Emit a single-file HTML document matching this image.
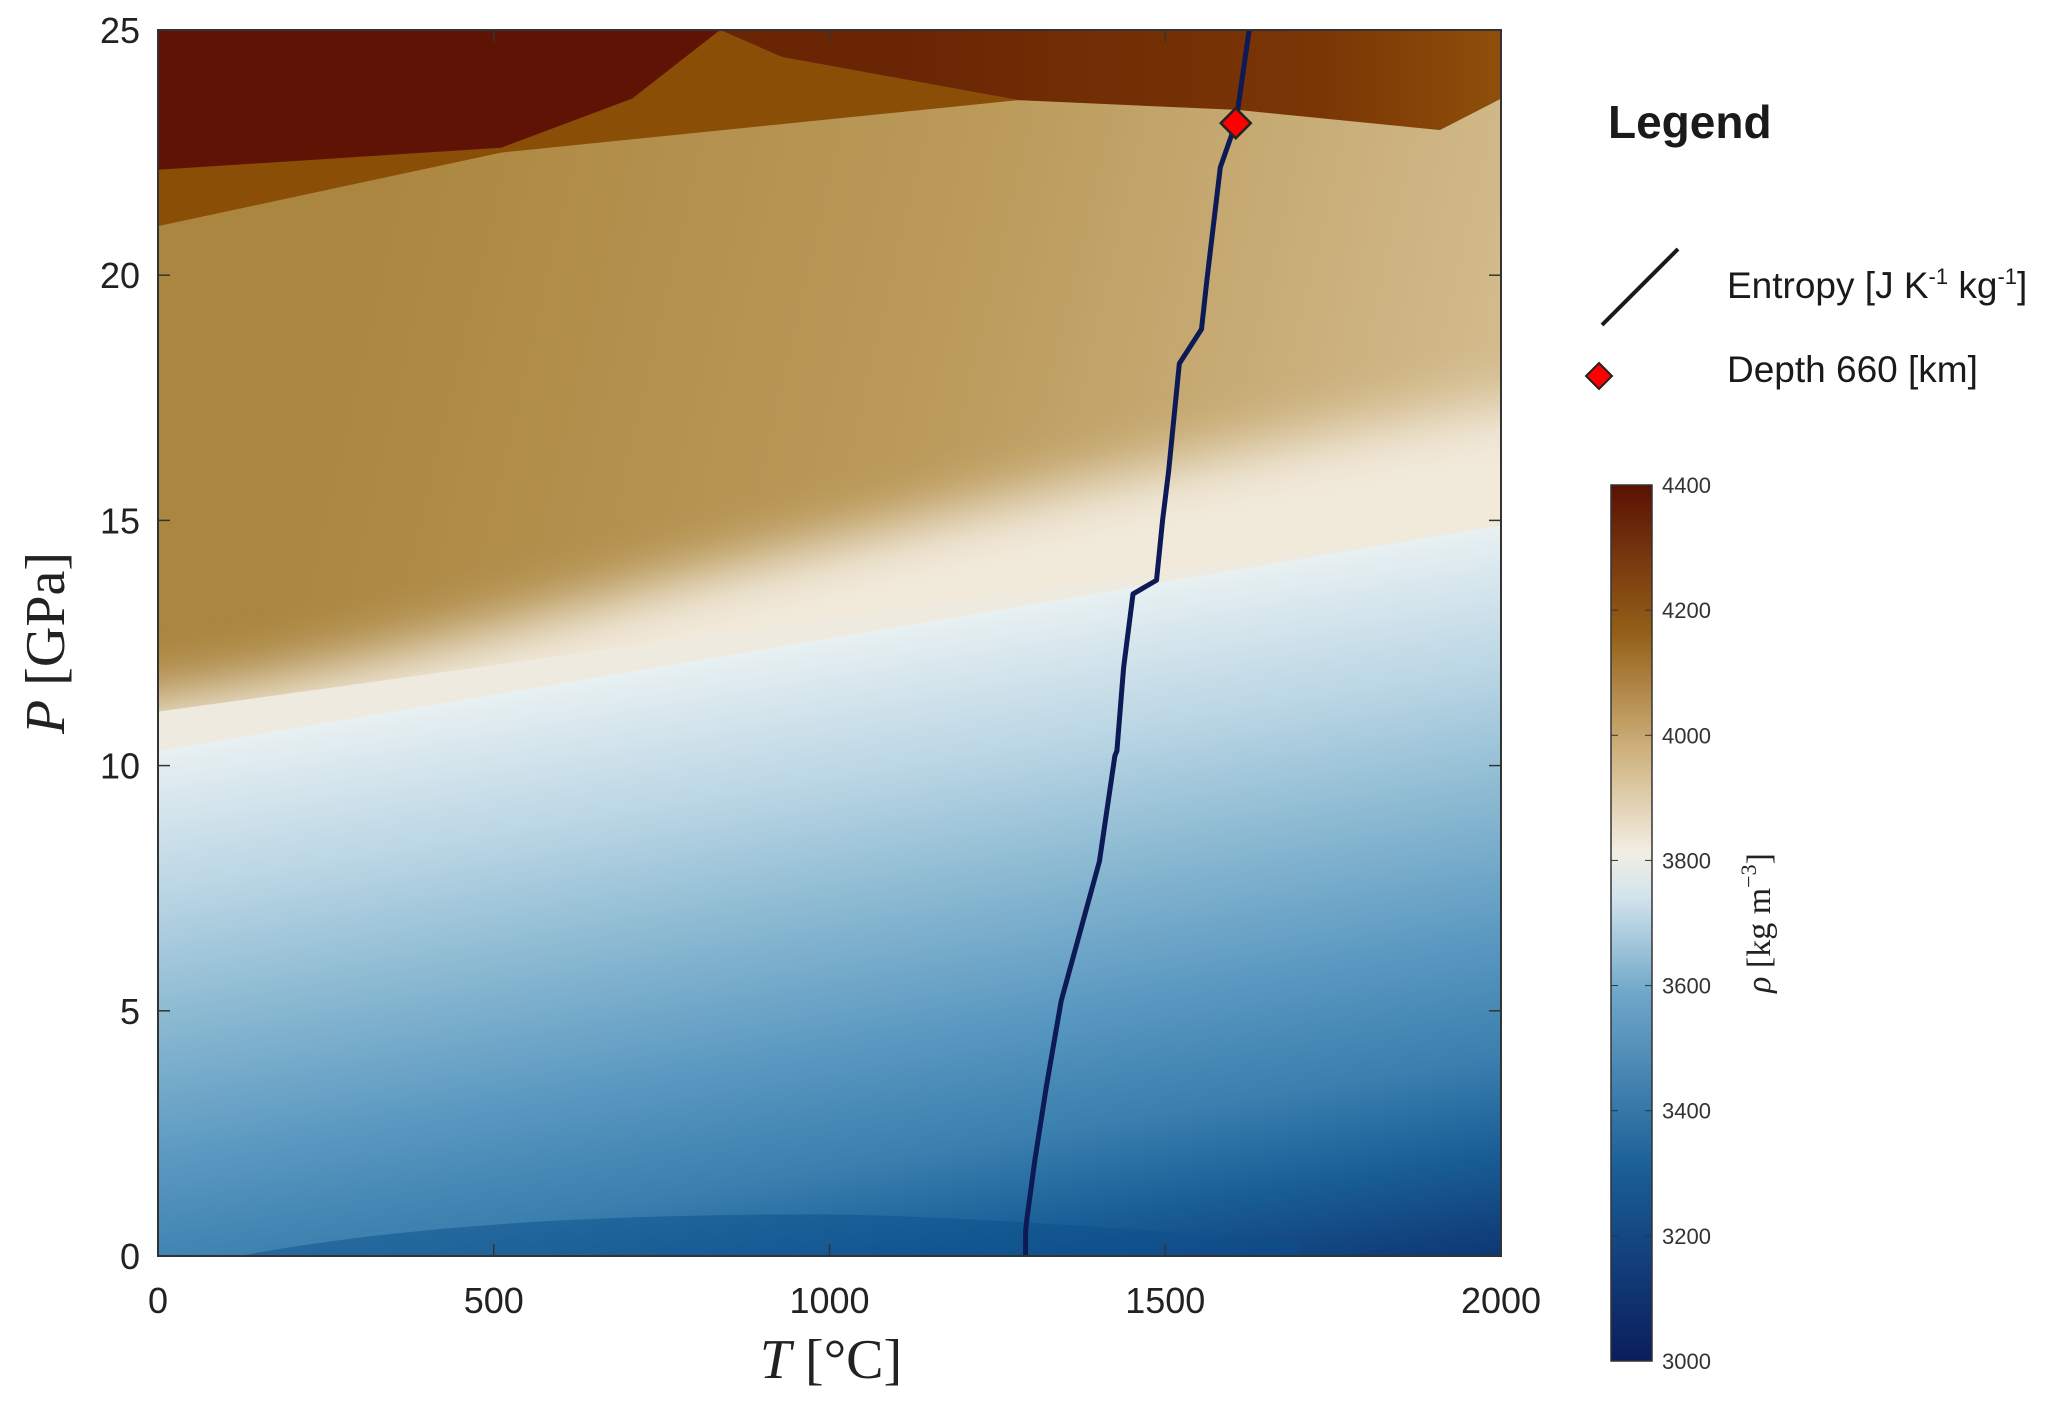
<!DOCTYPE html>
<html><head><meta charset="utf-8"><style>
html,body{margin:0;padding:0;background:#fff;}
svg{display:block;font-family:"Liberation Sans",sans-serif;}
</style></head><body>
<svg id="chart" width="2067" height="1403" viewBox="0 0 2067 1403" xmlns="http://www.w3.org/2000/svg">
<defs>
<linearGradient id="gBlue" gradientUnits="userSpaceOnUse" x1="158" y1="751" x2="282" y2="1490">
<stop offset="0" stop-color="#e8f0f2"/><stop offset="0.18" stop-color="#bcd7e5"/><stop offset="0.35" stop-color="#8cbad2"/><stop offset="0.55" stop-color="#5897c0"/><stop offset="0.7" stop-color="#3a7fae"/><stop offset="0.82" stop-color="#1a5f97"/><stop offset="1" stop-color="#0a2c6a"/>
</linearGradient>
<linearGradient id="gTan" gradientUnits="userSpaceOnUse" x1="350" y1="250" x2="1500" y2="520">
<stop offset="0" stop-color="#ab8640"/><stop offset="0.5" stop-color="#bb9a5a"/><stop offset="1" stop-color="#d4bd90"/>
</linearGradient>
<filter id="blurCream" x="-20%" y="-50%" width="140%" height="200%"><feGaussianBlur stdDeviation="28"/></filter>
<linearGradient id="gTop" gradientUnits="userSpaceOnUse" x1="900" y1="0" x2="1501" y2="0">
<stop offset="0" stop-color="#6a2604"/><stop offset="0.7" stop-color="#7a3605"/><stop offset="1" stop-color="#8e4f0a"/>
</linearGradient>
<linearGradient id="gCbar" x1="0" y1="1" x2="0" y2="0">
<stop offset="0" stop-color="#0b1d5c"/><stop offset="0.22" stop-color="#1a5f97"/><stop offset="0.42" stop-color="#6fa7c9"/><stop offset="0.53" stop-color="#d2e4ec"/><stop offset="0.58" stop-color="#f3eee4"/><stop offset="0.7" stop-color="#cdb07a"/><stop offset="0.83" stop-color="#946018"/><stop offset="1" stop-color="#5a1104"/>
</linearGradient>
<clipPath id="plotClip"><rect x="158" y="30" width="1343" height="1226"/></clipPath>
</defs>
<g id="field" clip-path="url(#plotClip)"></g>
<path id="entropyLine" fill="none" stroke="#0d1a55" stroke-width="5" stroke-linejoin="round"/>
<rect x="158" y="30" width="1343" height="1226" fill="none" stroke="#333" stroke-width="2"/>
<g id="axes"></g>
<text x="831" y="1378" text-anchor="middle" font-family="Liberation Serif,serif" font-size="56" fill="#222"><tspan font-style="italic">T</tspan> [°C]</text>
<text transform="translate(64,643) rotate(-90)" text-anchor="middle" font-family="Liberation Serif,serif" font-size="56" fill="#222"><tspan font-style="italic">P</tspan> [GPa]</text>
<g>
<text x="1608" y="138" font-size="46" font-weight="bold" fill="#1a1a1a">Legend</text>
<line x1="1602" y1="325" x2="1678" y2="249" stroke="#1a1a1a" stroke-width="4"/>
<text x="1727" y="298" font-size="37" fill="#1a1a1a">Entropy [J K<tspan font-size="22" dy="-14">-1</tspan><tspan dy="14"> kg</tspan><tspan font-size="22" dy="-14">-1</tspan><tspan dy="14">]</tspan></text>
<polygon points="1599,363 1612,376 1599,389 1586,376" fill="#f00" stroke="#222" stroke-width="2"/>
<text x="1727" y="382" font-size="37" fill="#1a1a1a">Depth 660 [km]</text>
</g>
<rect x="1611" y="485" width="41" height="876" fill="url(#gCbar)" stroke="#333" stroke-width="1.5"/>
<g id="cbarTicks"></g>
<text transform="translate(1770,923) rotate(-90)" text-anchor="middle" font-family="Liberation Serif,serif" font-size="34" fill="#222"><tspan font-style="italic">ρ</tspan> [kg m<tspan font-size="22" dy="-14">−3</tspan><tspan dy="14">]</tspan></text>
</svg>
<script>
const xTicks=[0,500,1000,1500,2000];
const yTicks=[0,5,10,15,20,25];
const cbarTicks=[3000,3200,3400,3600,3800,4000,4200,4400];
const entropyT=[1292,1292,1294,1306,1323,1345,1402,1425,1428,1438,1452,1487,1496,1505,1521,1554,1562,1582,1605,1625];
const entropyP=[0,0.5,0.76,1.97,3.46,5.2,8.05,10.2,10.3,12,13.5,13.78,15,16.0,18.2,18.9,19.9,22.2,23.1,25];
const depthT=[1605];
const depthP=[23.1];
const NS="http://www.w3.org/2000/svg";
const X0=158,X1=1501,Y0=1256,Y1=30;
function sx(t){return X0+(t/2000)*(X1-X0);}
function sy(p){return Y0-(p/25)*(Y0-Y1);}
function cy(v){return 1361-(v-3000)/1400*876;}
function mk(tag,attrs,parent){const e=document.createElementNS(NS,tag);for(const k in attrs)e.setAttribute(k,attrs[k]);parent.appendChild(e);return e;}
function pts(arr){return arr.map(a=>sx(a[0])+","+sy(a[1])).join(" ");}
const field=document.getElementById('field');
let e;
e=mk('rect',{x:X0,y:Y1,width:X1-X0,height:Y0-Y1,fill:'#b08c48'},field);
e=mk('polygon',{points:pts([[0,11.1],[2000,14.9],[2000,23.6],[1909,22.96],[1608,23.37],[1281,23.57],[511,22.5],[0,21.0]]),fill:'url(#gTan)'},field);


e=mk('path',{d:`M${sx(-100)},${sy(9)} L${sx(2100)},${sy(13.5)} L${sx(2100)},${sy(17.6)} C${sx(1700)},${sy(16.8)} ${sx(1300)},${sy(15.6)} ${sx(771)},${sy(13.8)} C${sx(450)},${sy(12.6)} ${sx(200)},${sy(11.7)} ${sx(-100)},${sy(11.2)} Z`,fill:'#f1e9da',filter:'url(#blurCream)'},field);


e=mk('polygon',{points:pts([[0,0],[2000,0],[2000,14.9],[0,10.3]]),fill:'url(#gBlue)'},field);


e=mk('path',{d:`M${sx(120)},${sy(0)} C${sx(400)},${sy(0.7)} ${sx(700)},${sy(0.85)} ${sx(1000)},${sy(0.85)} C${sx(1200)},${sy(0.8)} ${sx(1400)},${sy(0.6)} ${sx(1700)},${sy(0.3)} L${sx(1700)},${sy(0)} Z`,fill:'#0b4f8c',opacity:'0.5'},field);


e=mk('polygon',{points:pts([[0,10.3],[2000,14.9],[0,11.1]]),fill:'#efeae0'},field);


e=mk('polygon',{points:pts([[0,21.0],[511,22.5],[1281,23.57],[929,24.45],[837,25],[0,25]]),fill:'#8b4e07'},field);


e=mk('polygon',{points:pts([[0,22.15],[511,22.6],[706,23.6],[837,25],[0,25]]),fill:'#5f1304'},field);


e=mk('polygon',{points:pts([[837,25],[929,24.45],[1281,23.57],[1608,23.37],[1909,22.96],[2000,23.6],[2000,25]]),fill:'url(#gTop)'},field);


const path=document.getElementById('entropyLine');
path.setAttribute('d',entropyT.map((t,i)=>(i?'L':'M')+sx(t)+','+sy(entropyP[i])).join(' '));
const svg=document.getElementById('chart');
depthT.forEach((t,i)=>{const x=sx(t),y=sy(depthP[i]);
const d=mk('polygon',{points:`${x},${y-15} ${x+15},${y} ${x},${y+15} ${x-15},${y}`,fill:'#f00',stroke:'#222','stroke-width':2.5},svg);

});
const axes=document.getElementById('axes');
xTicks.forEach(t=>{const x=sx(t);
mk('line',{x1:x,y1:Y0,x2:x,y2:Y0-12,stroke:'#333','stroke-width':1.5},axes);
mk('line',{x1:x,y1:Y1,x2:x,y2:Y1+12,stroke:'#333','stroke-width':1.5},axes);
const l=mk('text',{x:x,y:1313,'text-anchor':'middle','font-size':36,fill:'#222'},axes);l.textContent=t;

});
yTicks.forEach(p=>{const y=sy(p);
mk('line',{x1:X0,y1:y,x2:X0+12,y2:y,stroke:'#333','stroke-width':1.5},axes);
mk('line',{x1:X1,y1:y,x2:X1-12,y2:y,stroke:'#333','stroke-width':1.5},axes);
const l=mk('text',{x:140,y:y+13,'text-anchor':'end','font-size':36,fill:'#222'},axes);l.textContent=p;

});
const cb=document.getElementById('cbarTicks');
cbarTicks.forEach(v=>{const y=cy(v);
mk('line',{x1:1611,y1:y,x2:1618,y2:y,stroke:'#333','stroke-width':1},cb);
mk('line',{x1:1652,y1:y,x2:1645,y2:y,stroke:'#333','stroke-width':1},cb);
const l=mk('text',{x:1662,y:y+8,'font-size':22,fill:'#333'},cb);l.textContent=v;

});
</script>
</body></html>
